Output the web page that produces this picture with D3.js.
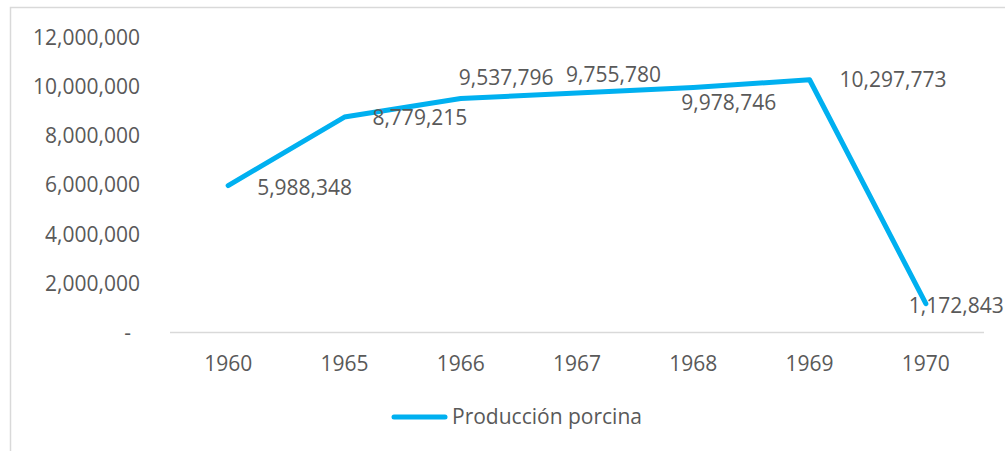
<!DOCTYPE html>
<html>
<head>
<meta charset="utf-8">
<script src="https://cdn.jsdelivr.net/npm/d3@7"></script>
<style>
  body { margin: 0; background: #fff; }
  text { font-family: "Open Sans", sans-serif; fill: #595959; }
</style>
</head>
<body>
<div id="app"></div>
<script>
const years = ['1960', '1965', '1966', '1967', '1968', '1969', '1970'];
const production = [5988348, 8779215, 9537796, 9755780, 9978746, 10297773, 1172843];
const yTicks = [0, 2000000, 4000000, 6000000, 8000000, 10000000, 12000000];
const seriesName = 'Producción porcina';

// hand-placed label offsets (start x, centre y) relative to each point
const labelOffsets = [[29, 2], [28, 1], [-2, -21], [-11, -18.5], [-12, 15.5], [30, 0], [-17, 2]];

const width = 1005;
const height = 451;
const color = '#00b0f0';
const fontSize = 21;

const svg = d3.select('#app').append('svg')
  .attr('width', width)
  .attr('height', height);

// chart frame (cropped at right and bottom)
svg.append('path')
  .attr('d', `M10.5,${height} V7.5 H${width}`)
  .attr('fill', 'none')
  .attr('stroke', '#d9d9d9')
  .attr('stroke-width', 1.5);

const x = d3.scaleBand().domain(years).range([170, 984]);
const y = d3.scaleLinear().domain([0, 12000000]).range([332.5, 38]);
const fmt = d3.format(',');

// y labels
const yAxis = svg.append('g')
  .attr('transform', 'translate(140,0)')
  .call(d3.axisLeft(y).tickValues(yTicks).tickSize(0).tickPadding(0)
    .tickFormat(d => d === 0 ? '' : fmt(d)));
yAxis.select('.domain').remove();
yAxis.selectAll('text').style('font-size', `${fontSize}px`).attr('fill', '#595959').attr('font-family', null);

svg.append('text')
  .attr('x', 131)
  .attr('y', y(0))
  .attr('dy', '0.35em')
  .attr('text-anchor', 'end')
  .style('font-size', `${fontSize}px`)
  .text('-');

// x axis
const xAxis = svg.append('g')
  .attr('transform', `translate(0,${y(0)})`)
  .call(d3.axisBottom(x).tickSize(0).tickPadding(24));
xAxis.select('.domain').attr('stroke', '#d9d9d9').attr('stroke-width', 1.5)
  .attr('d', `M170,0H984`);
xAxis.selectAll('text').style('font-size', `${fontSize}px`).attr('fill', '#595959').attr('font-family', null);

const cx = d => x(d) + x.bandwidth() / 2;

const line = d3.line()
  .x((d, i) => cx(years[i]))
  .y(d => y(d));

svg.append('path')
  .datum(production)
  .attr('d', line)
  .attr('fill', 'none')
  .attr('stroke', color)
  .attr('stroke-width', 5)
  .attr('stroke-linecap', 'round')
  .attr('stroke-linejoin', 'round');

svg.append('g').selectAll('text')
  .data(production)
  .join('text')
  .attr('x', (d, i) => cx(years[i]) + labelOffsets[i][0])
  .attr('y', (d, i) => y(d) + labelOffsets[i][1])
  .attr('dy', '0.35em')
  .style('font-size', `${fontSize}px`)
  .text(d => fmt(d));

// legend
const legend = svg.append('g').attr('transform', 'translate(392,417)');
legend.append('line')
  .attr('x1', 2).attr('x2', 53)
  .attr('stroke', color)
  .attr('stroke-width', 5)
  .attr('stroke-linecap', 'round');
legend.append('text')
  .attr('x', 60)
  .attr('dy', '0.35em')
  .style('font-size', `${fontSize}px`)
  .text(seriesName);
</script>
</body>
</html>
